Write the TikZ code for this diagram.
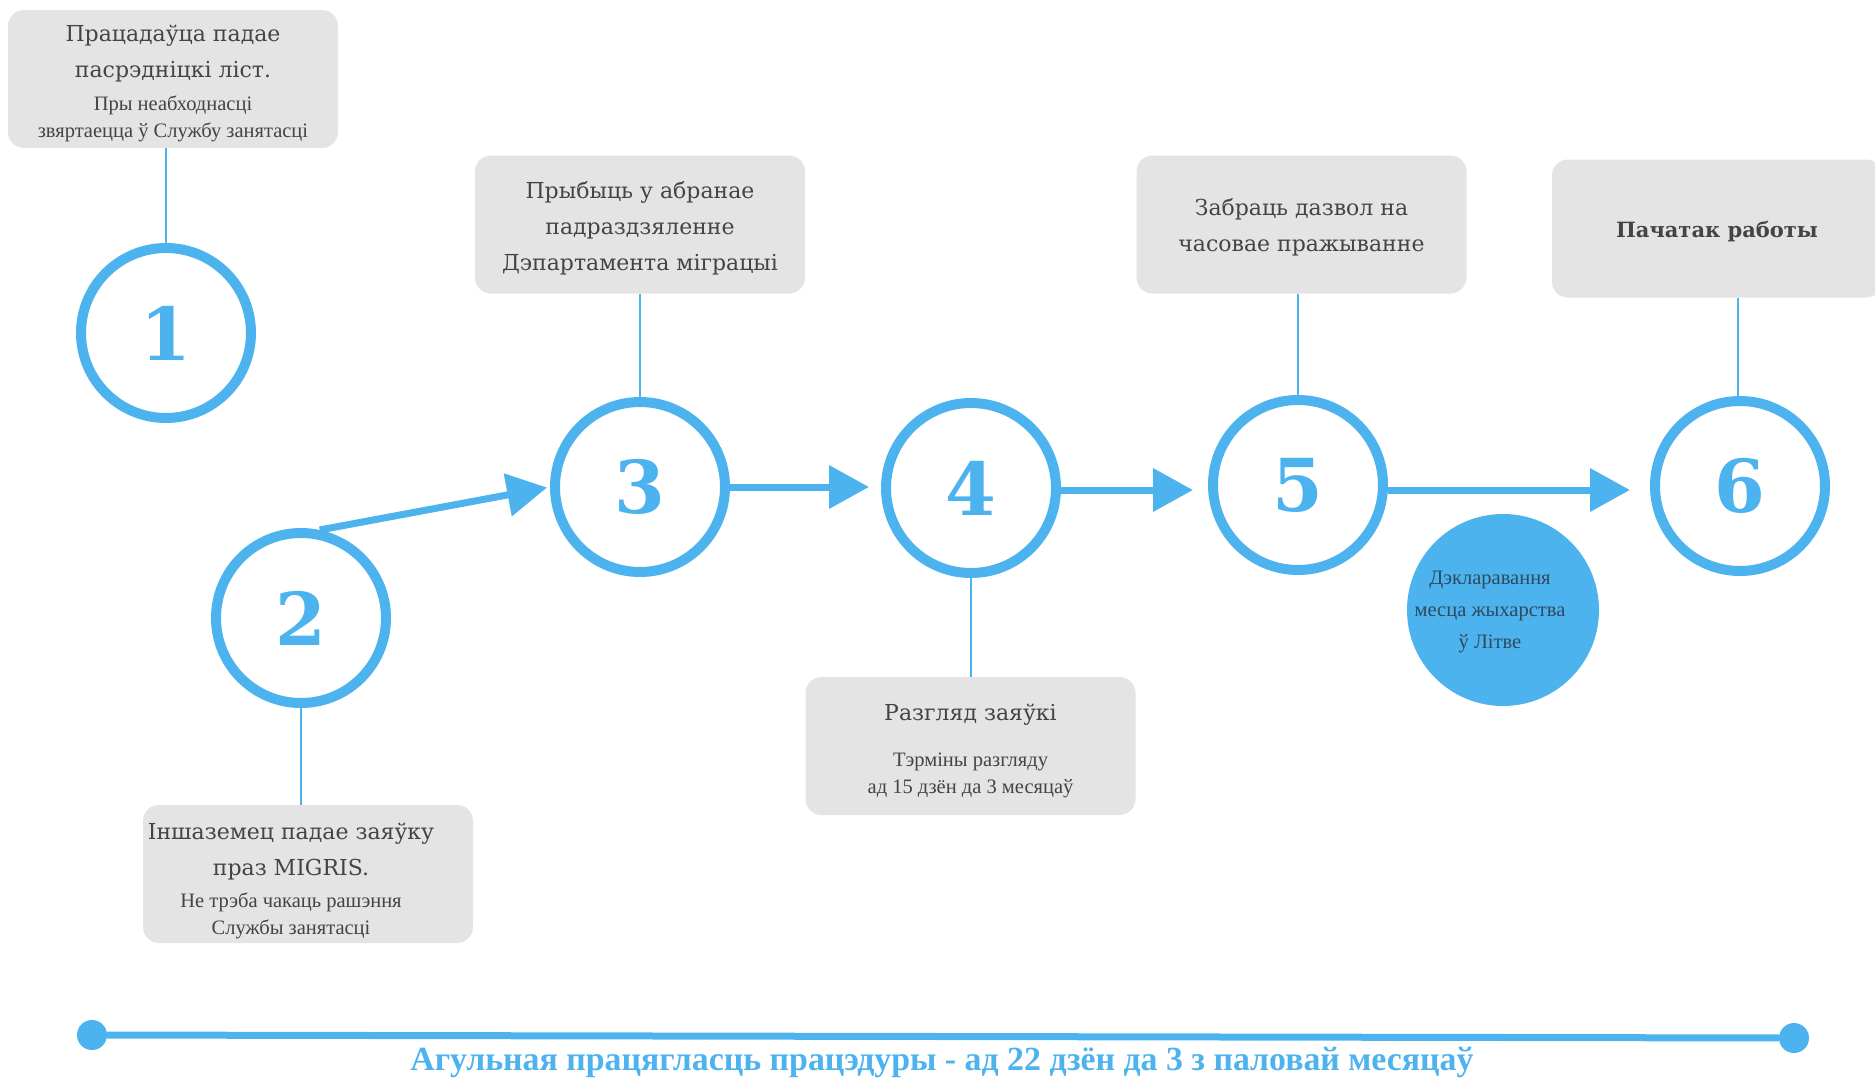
\documentclass[tikz,border=0pt]{standalone}
\usepackage{fontspec}
\usepackage{graphicx}
\setmainfont{DejaVu Serif}
\newfontfamily\libserif{Liberation Serif}
\usetikzlibrary{arrows.meta,calc}
\definecolor{stepblue}{HTML}{4DB3EE}
\definecolor{boxgray}{HTML}{E4E4E4}
\definecolor{txtgray}{HTML}{444444}
\definecolor{bluetxt}{HTML}{2E4A5E}
\newcommand\smtxt{\libserif\fontsize{20.5}{22}\selectfont}
\begin{document}
\begin{tikzpicture}[x=1pt,y=-1pt,
  stepcircle/.style={circle, draw=stepblue, line width=10pt, minimum size=170pt, inner sep=0pt,
    text=stepblue, font=\fontsize{73}{73}\selectfont\bfseries},
  infobox/.style={rectangle, rounded corners=16pt, fill=boxgray, minimum width=330pt,
    minimum height=138pt, text=txtgray, align=center, font=\fontsize{22}{36}\selectfont, inner sep=0pt},
  boxtext/.style={text=txtgray, align=center, font=\fontsize{22}{36}\selectfont, inner sep=0pt},
  stem/.style={draw=stepblue, line width=2pt},
  flow/.style={draw=stepblue, line width=7pt, -{Triangle[length=40pt,width=42pt]}},
  tdot/.style={circle, fill=stepblue, minimum size=30pt, inner sep=0pt},
  timeline/.style={draw=stepblue, line width=7pt},
  declcircle/.style={circle, fill=stepblue, minimum size=192pt, inner sep=0pt},
  decltext/.style={text=bluetxt, align=center, font=\libserif\fontsize{20.5}{32}\selectfont, inner sep=0pt}
]
\useasboundingbox (0,0) rectangle (1875,1079);

% boxes
\node[infobox] (b1) at (173,79) {\mbox{}\\[-11pt] Працадаўца падае\\ пасрэдніцкі ліст.\\[-3pt] {\smtxt Пры неабходнасці}\\[-9pt] {\smtxt звяртаецца ў Службу занятасці}};
\node[infobox] (b3) at (640,224.5) {\mbox{}\\[-11pt] Прыбыць у абранае\\ падраздзяленне\\ Дэпартамента міграцыі};
\node[infobox] (b5) at (1301.5,224.5) {\mbox{}\\[-14pt] Забраць дазвол на\\ часовае пражыванне};
\node[infobox] (b6) at (1717,228.5) {\mbox{}\\[-14pt] {\bfseries\fontsize{21}{36}\selectfont Пачатак работы}};
\node[infobox] (b2) at (308,874) {};
\node[boxtext] (t2) at (291,881) {Іншаземец падае заяўку\\ праз MIGRIS.\\[-4pt] {\smtxt Не трэба чакаць рашэння}\\[-9pt] {\smtxt Службы занятасці}};
\node[infobox] (b4) at (970.5,746) {\mbox{}\\[-10pt] Разгляд заяўкі\\[10pt] {\smtxt Тэрміны разгляду}\\[-9pt] {\smtxt ад 15 дзён да 3 месяцаў}};

% circles
\node[stepcircle] (c1) at (166,333) {1};
\node[stepcircle] (c2) at (301,618) {2};
\node[stepcircle] (c3) at (640,487) {3};
\node[stepcircle] (c4) at (971,488) {4};
\node[stepcircle] (c5) at (1298,485) {5};
\node[stepcircle] (c6) at (1740,486) {6};

\node[declcircle] (decl) at (1503,610) {};
\node[decltext] (declt) at (1490,612) {Дэкларавання\\ месца жыхарства\\ ў Літве};

% stems
\draw[stem] (c1.north |- b1.south) -- (c1.north);
\draw[stem] (c3.north |- b3.south) -- (c3.north);
\draw[stem] (c5.north |- b5.south) -- (c5.north);
\draw[stem] ([xshift=-2pt]c6.north |- b6.south) -- ([xshift=-2pt]c6.north);
\draw[stem] (c2.south) -- (c2.south |- b2.north);
\draw[stem] (c4.south) -- (c4.south |- b4.north);

% flow arrows
\draw[flow, shorten >=3pt] (c2.78) -- (c3.west);
\draw[flow, shorten >=12pt] (c3.east) -- (c3.east -| c4.west);
\draw[flow, shorten >=15pt] ([yshift=-2pt]c4.east) -- ([yshift=-2pt]c4.east -| c5.west);
\draw[flow, shorten >=20pt] ([yshift=-5pt]c5.east) -- ([yshift=-5pt]c5.east -| c6.west);

% timeline
\node[tdot] (tl) at (92,1035) {};
\node[tdot] (tr) at (1794,1038) {};
\draw[timeline] (tl) -- (tr);
\node[text=stepblue, inner sep=0pt] (total) at (942,1062) {\resizebox{1063pt}{!}{\libserif\bfseries\fontsize{30}{30}\selectfont Агульная працягласць працэдуры - ад 22 дзён да 3 з паловай месяцаў}};
\end{tikzpicture}
\end{document}
